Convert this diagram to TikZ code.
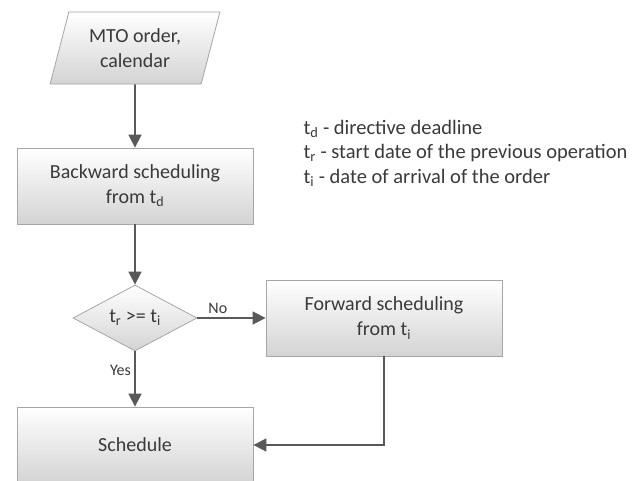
\documentclass[tikz,border=0pt]{standalone}
\usepackage{fontspec}
\setmainfont{Carlito}
\usetikzlibrary{shapes.geometric, arrows.meta}

\definecolor{edgegrey}{HTML}{A6A6A6}
\definecolor{linegrey}{HTML}{595959}
\definecolor{textgrey}{HTML}{3A3A3A}

\tikzset{
    boxstyle/.style={draw=edgegrey, line width=0.8pt, top color=white, bottom color=black!17,
        text=textgrey, align=center, font=\fontsize{20}{25}\selectfont},
    procbox/.style={boxstyle, rectangle, minimum width=236pt, minimum height=76pt},
    databox/.style={boxstyle, trapezium, trapezium left angle=73, trapezium right angle=107,
        trapezium stretches=true, minimum width=170pt, minimum height=72pt},
    testbox/.style={boxstyle, diamond, aspect=1.9, minimum width=124pt, minimum height=66pt, inner sep=0pt},
    flow/.style={draw=linegrey, line width=1.6pt, -{Triangle[length=13pt, width=13pt]}},
    answer/.style={text=textgrey, font=\fontsize{16}{18}\selectfont}
}

\begin{document}
\begin{tikzpicture}[x=1pt, y=-1pt]
    \useasboundingbox (0,0) rectangle (638,480);

    % Flow chart blocks
    \node[databox] (order) at (135,48) {MTO order,\\calendar};
    \node[procbox] (backward) at (135,186) {Backward scheduling\\from t\textsubscript{d}};
    \node[testbox] (check) at (135,318) {t\textsubscript{r} >= t\textsubscript{i}};
    \node[procbox] (forward) at (384,318) {Forward scheduling\\from t\textsubscript{i}};
    \node[procbox] (schedule) at (135,445) {Schedule};

    % Legend
    \node[anchor=west, align=left, text=textgrey, font=\fontsize{20.5}{24.5}\selectfont] (legend) at (300,153)
        {t\textsubscript{d} - directive deadline\\
         t\textsubscript{r} - start date of the previous operation\\
         t\textsubscript{i} - date of arrival of the order};

    % Connectors
    \draw[flow] (order) -- (backward);
    \draw[flow] (backward) -- (check);
    \draw[flow] (check) -- node[answer, above, pos=0.3] {No} (forward);
    \draw[flow] (check) -- node[answer, left, pos=0.35] {Yes} (schedule);
    \draw[flow] (forward.south) |- (schedule.east);
\end{tikzpicture}
\end{document}
